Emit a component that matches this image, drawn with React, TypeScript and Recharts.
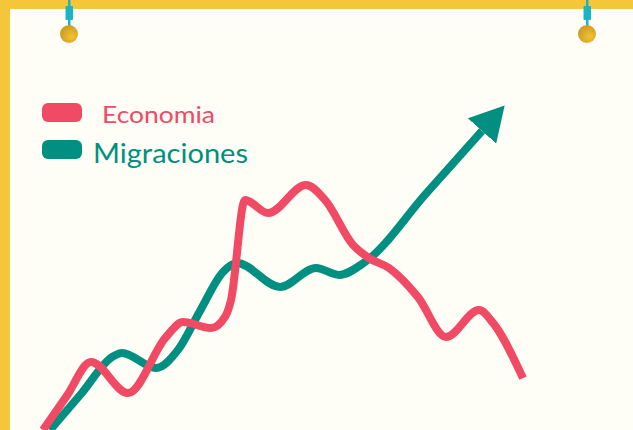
import React from "react";
import {Line, LineChart, XAxis, YAxis} from "recharts";

interface Point {
  t: number;
  v: number;
}

const seriesNames = ["Economia", "Migraciones"];
const seriesColors = ["#F04A64", "#008F80"];

// values (arbitrary units)
const economia: Point[] = [
  {t: 0, v: 0},
  {t: 5.9, v: 11.3},
  {t: 12, v: 22.7},
  {t: 21.25, v: 12.3},
  {t: 30.75, v: 31},
  {t: 35, v: 36},
  {t: 42, v: 34},
  {t: 45.5, v: 37.7},
  {t: 47, v: 43.3},
  {t: 50.5, v: 76.7},
  {t: 56.25, v: 72.3},
  {t: 65.75, v: 81.7},
  {t: 70.5, v: 76.7},
  {t: 77.5, v: 61.7},
  {t: 81.5, v: 57.3},
  {t: 86.5, v: 54},
  {t: 93.75, v: 44.3},
  {t: 100.75, v: 31},
  {t: 109, v: 40},
  {t: 112.5, v: 35.7},
  {t: 120, v: 17.3},
];

const migraciones: Point[] = [
  {t: 1.75, v: 0},
  {t: 9.5, v: 12},
  {t: 17.25, v: 24.3},
  {t: 19.75, v: 25.7},
  {t: 28.25, v: 20.7},
  {t: 33.75, v: 26.7},
  {t: 39.25, v: 39.7},
  {t: 45, v: 52.7},
  {t: 48.5, v: 55.7},
  {t: 59.25, v: 47.7},
  {t: 68.25, v: 54},
  {t: 74, v: 51.7},
  {t: 80.5, v: 56},
  {t: 95.75, v: 78.8},
  {t: 109.75, v: 99.7},
];

const W = 633;
const H = 430;
const yellow = "#F6C63A";

function LegendBox() {
  return (
    <g transform="translate(42, 103)">
      {seriesNames.map((name, i) => (
        <g key={name} transform={`translate(0, ${i * 37})`}>
          <rect x={0} y={0} width={40} height={19} rx={6} fill={seriesColors[i]}/>
          <text
            x={i === 0 ? 60 : 51}
            y={i === 0 ? 20 : 23}
            fill={seriesColors[i]}
            fontFamily="Lato, sans-serif"
            fontSize={i === 0 ? 24 : 27}
            textLength={i === 0 ? 113 : 155}
            lengthAdjust="spacingAndGlyphs"
          >
            {name}
          </text>
        </g>
      ))}
    </g>
  );
}

function Pin({x}: {x: number}) {
  return (
    <g>
      <defs>
        <radialGradient id={`pin${x}`} cx="65%" cy="65%" r="70%">
          <stop offset="0%" stopColor="#F3C232"/>
          <stop offset="100%" stopColor="#C99A22"/>
        </radialGradient>
      </defs>
      <rect x={x - 1} y={0} width={2.5} height={30} fill="#1BB3C6"/>
      <rect x={x - 3.5} y={6} width={7.5} height={14} rx={1} fill="#1BB3C6"/>
      <circle cx={x} cy={34} r={9} fill={`url(#pin${x})`}/>
    </g>
  );
}

export default function App() {
  return (
    <div style={{position: "fixed", top: 0, left: 0, width: W, height: H, background: "#FEFEF7", overflow: "hidden"}}>
      <LineChart width={W} height={H} margin={{top: 0, right: 0, bottom: 0, left: 0}}>
        <defs>
          <marker
            id="arrowHead"
            viewBox="0 0 34 38"
            refX={0}
            refY={19}
            markerWidth={34}
            markerHeight={38}
            markerUnits="userSpaceOnUse"
            orient="auto"
          >
            <path d="M0,0 L34,19 L0,38 Z" fill={seriesColors[1]}/>
          </marker>
        </defs>
        <XAxis type="number" dataKey="t" domain={[-10.75, 147.5]} hide allowDataOverflow/>
        <YAxis type="number" domain={[0, 143.33]} hide allowDataOverflow/>
        <Line
          data={migraciones}
          dataKey="v"
          name="Migraciones"
          type="monotone"
          stroke={seriesColors[1]}
          strokeWidth={8}
          dot={false}
          activeDot={false}
          markerEnd="url(#arrowHead)"
          isAnimationActive={false}
        />
        <Line
          data={economia}
          dataKey="v"
          name="Economia"
          type="monotone"
          stroke={seriesColors[0]}
          strokeWidth={8}
          dot={false}
          activeDot={false}
          isAnimationActive={false}
        />
      </LineChart>
      <svg width={W} height={H} style={{position: "absolute", top: 0, left: 0, pointerEvents: "none"}}>
        <rect x={0} y={0} width={W} height={9} fill={yellow}/>
        <rect x={0} y={0} width={10} height={H} fill={yellow}/>
        <Pin x={69}/>
        <Pin x={587}/>
        <LegendBox/>
      </svg>
    </div>
  );
}
